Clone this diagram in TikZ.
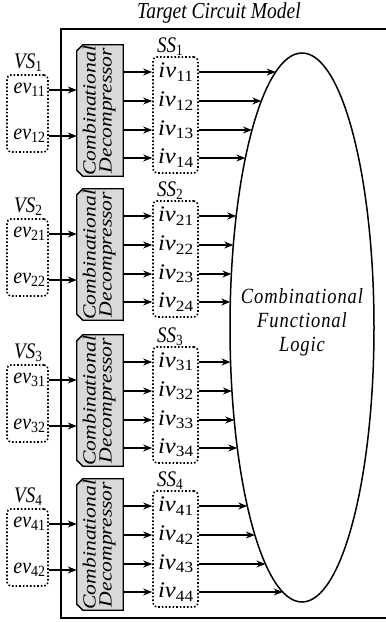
\documentclass[tikz,border=0pt]{standalone}
\usepackage{fontspec}
\setmainfont{Liberation Serif}
\usetikzlibrary{arrows.meta,shapes.geometric,calc}
\newcommand{\hs}[1]{\scalebox{1}[1.17]{#1}}
\newcommand{\sv}[2]{\textit{#1}\textsubscript{\upshape #2}}
\begin{document}
\begin{tikzpicture}[x=1pt,y=-1pt,
  arr/.style={line width=1.2pt,-{Stealth[length=9pt,width=7pt]}},
  dotbox/.style={draw,line width=1.6pt,dash pattern=on 1.6pt off 2pt,rounded corners=4pt,inner sep=0pt},
  lab/.style={font=\fontsize{19}{21}\selectfont,inner sep=0pt},
  decfill/.style={draw,line width=1.3pt,fill=black!15}]
\useasboundingbox (0,0) rectangle (386,622);
\node[lab,anchor=base,font=\fontsize{19.5}{22}\selectfont\itshape] (title) at (219,18) {\hs{Target Circuit Model}};
\draw[line width=1.7pt] (61,29) rectangle (392,618);
\node[draw,ellipse,line width=1.5pt,minimum width=144pt,minimum height=549pt,inner sep=0pt] (E) at (302,327.5) {};
\node[font=\fontsize{18.5}{24}\selectfont\itshape\addfontfeature{LetterSpace=5},align=center,inner sep=0pt] (cfl) at (302,322)
  {\hs{Combinational}\\\hs{Functional}\\\hs{Logic}};
\foreach \k/\T in {1/45,2/189,3/335,4/479}{
  % decompressor
  \node[minimum width=46pt,minimum height=131pt,inner sep=0pt] (dec\k) at (100,{\T+65.5}) {};
  \draw[decfill] ($(dec\k.north west)+(6,0)$) -- (dec\k.north east) -- (dec\k.south east)
     -- ($(dec\k.south west)+(6,0)$) -- ($(dec\k.south west)+(0,-6)$) -- ($(dec\k.north west)+(0,6)$) -- cycle;
  \node[rotate=90,inner sep=0pt,font=\fontsize{18.5}{18}\selectfont\itshape] (dect\k) at (dec\k.center)
     {\scalebox{1.17}[1]{\begin{tabular}{@{}c@{}}Combinational\\[-2pt]Decompressor\end{tabular}}};
  % SS box
  \node[dotbox,minimum width=45pt,minimum height=116pt] (ss\k) at (175.5,{\T+70}) {};
  \node[lab,anchor=base west] (ssl\k) at (157,{\T+7}) {\hs{\sv{SS}{\k}}};
  % VS box
  \node[dotbox,minimum width=41pt,minimum height=77pt] (vs\k) at (27.5,{\T+68.5}) {};
  \node[lab,anchor=base west] (vsl\k) at (14,{\T+23}) {\hs{\sv{VS}{\k}}};
  \foreach \j/\r in {1/45,2/91}{
    \node[lab] (ev\k\j) at (29.5,{\T+\r}) {\scalebox{1.05}[1.17]{\sv{ev}{\k\j}}};
    \draw[arr] (vs\k.east |- ev\k\j) -- (dec\k.west |- ev\k\j);
  }
  \foreach \j/\r in {1/27,2/56,3/85,4/113}{
    \node[lab] (iv\k\j) at (176,{\T+\r}) {\scalebox{1.3}[1.17]{\sv{iv}{\k\j}}};
    \draw[arr] (dec\k.east |- iv\k\j) -- (ss\k.west |- iv\k\j);
    \pgfmathsetmacro{\yy}{\T+\r}
    \pgfmathsetmacro{\xx}{302-72*sqrt(1-((\yy-327.5)/274.5)^2)}
    \coordinate (e\k\j) at (\xx,\yy);
    \draw[arr] (ss\k.east |- iv\k\j) -- (e\k\j);
  }
}
\end{tikzpicture}
\end{document}
